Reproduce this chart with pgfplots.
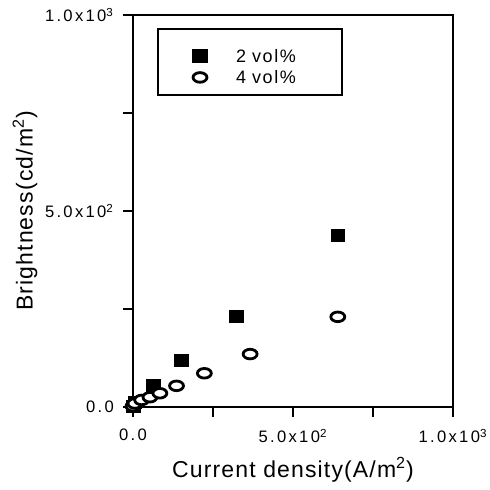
\documentclass[border=0pt]{standalone}
\usepackage{fontspec}
\setmainfont{Liberation Sans}
\newfontfamily\tickfont[LetterSpace=14]{Liberation Sans}
\newfontfamily\labfont[LetterSpace=5]{Liberation Sans}
\newfontfamily\legfont[LetterSpace=9]{Liberation Sans}
\usepackage{pgfplots}
\pgfplotsset{compat=1.18}

\begin{document}
\begin{tikzpicture}
\path[use as bounding box] (-66.5pt,-41.5pt) rectangle (178.5pt,203.5pt);
\begin{axis}[
  at={(0,0)}, anchor=south west,
  scale only axis,
  width=160pt, height=196pt,
  xmin=0, xmax=1000, ymin=0, ymax=1000,
  xtick={0,250,500,750,1000},
  ytick={0,250,500,750,1000},
  xticklabels={0.0,,5.0x10\textsuperscript{2},,1.0x10\textsuperscript{3}},
  yticklabels={0.0,,5.0x10\textsuperscript{2},,1.0x10\textsuperscript{3}},
  tick label style={font=\tickfont\fontsize{8.3}{9}\selectfont},
  xticklabel style={yshift=-2.5pt},
  yticklabel style={xshift=-1pt},
  tick pos=left, tick align=outside,
  major tick length=5pt,
  tick style={line width=1.3pt, black},
  axis line style={line width=1.3pt},
  xlabel={Current density(A/m\textsuperscript{2})},
  ylabel={Brightness(cd/m\textsuperscript{2})},
  label style={font=\labfont\fontsize{11.5}{13}\selectfont},
  xlabel style={at={(axis description cs:0.5,-0.161)}, anchor=center},
  ylabel style={at={(axis description cs:-0.3375,0.5)}, anchor=center},
  legend style={draw=black, line width=1pt, at={(0.075,0.967)}, anchor=north west,
    inner xsep=9pt, inner ysep=3pt, row sep=-6pt,
    font=\legfont\fontsize{9}{10}\selectfont,
    nodes={inner xsep=4pt, text width=40pt, text height=12pt, text depth=0.5pt}},
  legend cell align=left,
  legend image code/.code={%
    \path[draw=none] (0pt,0pt) -- (26pt,0pt);
    \draw[#1] plot coordinates {(12pt,-2.5pt)};},
]
\addplot[only marks, mark=square*, mark size=3pt, mark options={xscale=1.15, fill=black, draw=black}]
  coordinates {(0,2) (6,12) (64,54) (152,120) (324,232) (640,439)};
\addlegendentry{2 vol\%}
\addplot[only marks, mark=*, mark size=2.4pt, mark options={xscale=1.45, fill=white, draw=black, line width=1.4pt}]
  coordinates {(0,2) (6,9) (27,18) (53,25) (84,35) (136,54) (223,86) (366,135) (640,230)};
\addlegendentry{4 vol\%}
\end{axis}
\end{tikzpicture}
\end{document}
